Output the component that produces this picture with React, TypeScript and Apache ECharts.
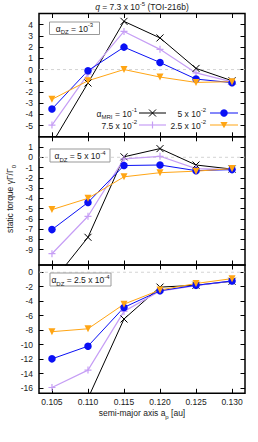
import React, { useEffect, useRef } from "react";
import * as echarts from "echarts";

const X_VALUES = [0.105, 0.11, 0.115, 0.12, 0.125, 0.13];
const X_TICKS = [0.105, 0.11, 0.115, 0.12, 0.125, 0.13];
const X_RANGE = [0.1032, 0.1318];

// panel 1: alpha_DZ = 1e-3
const P1_MRI_1E1 = [-6.6, -1.2, 4.3, 2.82, 0.1, -1.0];
const P1_MRI_75E3 = [-4.95, -0.4, 3.4, 1.8, -0.3, -1.1];
const P1_MRI_5E2 = [-3.52, -0.1, 2.0, 0.63, -0.85, -1.17];
const P1_MRI_25E3 = [-2.66, -1.0, 0.0, -0.67, -1.15, -1.08];
// panel 2: alpha_DZ = 5e-4
const P2_MRI_1E1 = [-12.2, -7.8, 0.05, 0.85, -0.75, -1.15];
const P2_MRI_75E3 = [-9.4, -5.75, -0.15, 0.1, -1.1, -1.2];
const P2_MRI_5E2 = [-7.05, -4.4, -0.8, -0.75, -1.3, -1.2];
const P2_MRI_25E3 = [-5.1, -4.0, -1.9, -1.5, -1.35, -1.1];
// panel 3: alpha_DZ = 2.5e-4
const P3_MRI_1E1 = [-26, -17.4, -6.45, -2.05, -1.8, -1.25];
const P3_MRI_75E3 = [-15.9, -13.5, -5.4, -2.6, -1.85, -1.2];
const P3_MRI_5E2 = [-11.95, -10.2, -4.85, -2.55, -1.8, -1.2];
const P3_MRI_25E3 = [-8.2, -7.8, -4.4, -2.45, -1.55, -0.88];

const Y1_TICKS = [-5, -4, -3, -2, -1, 0, 1, 2, 3, 4];
const Y2_TICKS = [-9, -8, -7, -6, -5, -4, -3, -2, -1, 0, 1];
const Y3_TICKS = [-16, -14, -12, -10, -8, -6, -4, -2, 0];

const FONT = "'Liberation Sans', Arial, sans-serif";
const TXT = "#1a1a1a";
const C_BLACK = "#000000";
const C_PURPLE = "#c69ef5";
const C_BLUE = "#0a10f5";
const C_ORANGE = "#ffa514";

const X_SYM = "path://M0,0L10,10M10,0L0,10";
const PLUS_SYM = "path://M5,0L5,10M0,5L10,5";

const rich = {
  n: { fontSize: 8.5, fontFamily: FONT, fill: TXT, lineHeight: 13 },
  i: { fontSize: 8.5, fontFamily: FONT, fill: TXT, fontStyle: "italic", lineHeight: 13 },
  sup: { fontSize: 6, fontFamily: FONT, fill: TXT, verticalAlign: "top", lineHeight: 13 },
  sub: { fontSize: 6, fontFamily: FONT, fill: TXT, verticalAlign: "bottom", lineHeight: 13 },
};

function mkSeries(name: string, vals: number[], idx: number, color: string, kind: string) {
  const s: any = {
    type: "line",
    name,
    xAxisIndex: idx * 2,
    yAxisIndex: idx * 2,
    data: X_VALUES.map((x, i) => [x, vals[i]]),
    lineStyle: { color, width: kind === "plus" ? 1.2 : 1 },
    clip: true,
    silent: true,
    z: 3,
  };
  if (kind === "x") {
    s.symbol = X_SYM;
    s.symbolSize = 7;
    s.itemStyle = { color: "transparent", borderColor: color, borderWidth: 1 };
  } else if (kind === "plus") {
    s.symbol = PLUS_SYM;
    s.symbolSize = 7;
    s.itemStyle = { color: "transparent", borderColor: color, borderWidth: 1.2 };
  } else if (kind === "circle") {
    s.symbol = "circle";
    s.symbolSize = 7.5;
    s.itemStyle = { color };
  } else {
    s.symbol = "triangle";
    s.symbolRotate = 180;
    s.symbolSize = 7;
    s.itemStyle = { color };
  }
  return s;
}

function zeroLine(idx: number) {
  return {
    type: "line",
    xAxisIndex: idx * 2,
    yAxisIndex: idx * 2,
    data: [
      [X_RANGE[0], 0],
      [X_RANGE[1], 0],
    ],
    symbol: "none",
    silent: true,
    z: 1,
    lineStyle: { type: [3, 3], color: "#c8c8c8", width: 0.8 },
  };
}

function dzBox(x: number, y: number, w: number, h: number, text: string) {
  return [
    { type: "rect", shape: { x, y, width: w, height: h }, style: { fill: "#fff", stroke: "#999", lineWidth: 1 }, z: 50 },
    {
      type: "text",
      x: x + w / 2,
      y: y + h / 2 + 0.5,
      z: 51,
      style: { text, align: "center", verticalAlign: "middle", rich, fontSize: 8.5, fontFamily: FONT, fill: TXT },
    },
  ];
}

function legendEntry(textRight: number, y: number, lx1: number, lx2: number, text: string, color: string, kind: string) {
  const cx = (lx1 + lx2) / 2;
  const els: any[] = [
    { type: "text", x: textRight, y: y + 0.5, z: 50, style: { text, align: "right", verticalAlign: "middle", rich, fontSize: 8.5, fontFamily: FONT, fill: TXT } },
    { type: "line", z: 50, shape: { x1: lx1, y1: y, x2: lx2, y2: y }, style: { stroke: color, lineWidth: kind === "plus" ? 1.2 : 1 } },
  ];
  if (kind === "x") {
    els.push({ type: "line", z: 51, shape: { x1: cx - 3.5, y1: y - 3.5, x2: cx + 3.5, y2: y + 3.5 }, style: { stroke: color, lineWidth: 1 } });
    els.push({ type: "line", z: 51, shape: { x1: cx + 3.5, y1: y - 3.5, x2: cx - 3.5, y2: y + 3.5 }, style: { stroke: color, lineWidth: 1 } });
  } else if (kind === "plus") {
    els.push({ type: "line", z: 51, shape: { x1: cx, y1: y - 3.5, x2: cx, y2: y + 3.5 }, style: { stroke: color, lineWidth: 1.2 } });
  } else if (kind === "circle") {
    els.push({ type: "circle", z: 51, shape: { cx, cy: y, r: 3.75 }, style: { fill: color } });
  } else {
    els.push({ type: "polygon", z: 51, shape: { points: [[cx - 3.6, y - 3], [cx + 3.6, y - 3], [cx, y + 3.2]] }, style: { fill: color } });
  }
  return els;
}

export default function App() {
  const ref = useRef<HTMLDivElement>(null);
  useEffect(() => {
    if (!ref.current) return;
    const chart = echarts.init(ref.current, undefined, { renderer: "svg" });

    const gridDefs = [
      { top: 13.5, height: 123.3, min: -6, max: 5, ticks: Y1_TICKS },
      { top: 136.8, height: 128.2, min: -10.5, max: 2, ticks: Y2_TICKS },
      { top: 265, height: 128.3, min: -16.7, max: 1, ticks: Y3_TICKS },
    ];

    const grid = gridDefs.map((g) => ({
      left: 39,
      width: 206,
      top: g.top,
      height: g.height,
      show: true,
      borderColor: "#000",
      borderWidth: 1.5,
      backgroundColor: "transparent",
    }));

    const xAxis: any[] = [];
    const yAxis: any[] = [];
    gridDefs.forEach((g, i) => {
      ["bottom", "top"].forEach((pos) => {
        xAxis.push({
          type: "value",
          gridIndex: i,
          position: pos,
          min: X_RANGE[0],
          max: X_RANGE[1],
          axisLine: { show: false, onZero: false },
          splitLine: { show: false },
          axisTick: { show: true, inside: true, length: 4.5, customValues: X_TICKS, lineStyle: { color: "#000", width: 1 } },
          axisLabel: {
            show: i === 2 && pos === "bottom",
            customValues: X_TICKS,
            margin: 4,
            fontSize: 8.5,
            fontFamily: FONT,
            color: TXT,
            formatter: (v: number) => v.toFixed(3),
          },
        });
      });
      ["left", "right"].forEach((pos) => {
        yAxis.push({
          type: "value",
          gridIndex: i,
          position: pos,
          min: g.min,
          max: g.max,
          axisLine: { show: false, onZero: false },
          splitLine: { show: false },
          axisTick: { show: true, inside: true, length: 4.5, customValues: g.ticks, lineStyle: { color: "#000", width: 1 } },
          axisLabel: {
            show: pos === "left",
            customValues: g.ticks,
            margin: 6,
            fontSize: 8.5,
            fontFamily: FONT,
            color: TXT,
            formatter: (v: number) => String(Math.round(v)),
          },
        });
      });
    });

    const panels = [
      [P1_MRI_1E1, P1_MRI_75E3, P1_MRI_5E2, P1_MRI_25E3],
      [P2_MRI_1E1, P2_MRI_75E3, P2_MRI_5E2, P2_MRI_25E3],
      [P3_MRI_1E1, P3_MRI_75E3, P3_MRI_5E2, P3_MRI_25E3],
    ];
    const styles: [string, string, string][] = [
      ["mri 1e-1", C_BLACK, "x"],
      ["mri 7.5e-2", C_PURPLE, "plus"],
      ["mri 5e-2", C_BLUE, "circle"],
      ["mri 2.5e-2", C_ORANGE, "tri"],
    ];
    const series: any[] = [];
    panels.forEach((_p, i) => series.push(zeroLine(i)));
    panels.forEach((p, i) => {
      p.forEach((vals, k) => {
        series.push(mkSeries(styles[k][0] + " p" + (i + 1), vals, i, styles[k][1], styles[k][2]));
      });
    });

    const graphic: any[] = [
      {
        type: "text",
        x: 142,
        y: 7,
        style: { text: "{i|q}{n| = 7.3 x 10}{sup|-5}{n| (TOI-216b)}", align: "center", verticalAlign: "middle", rich, fontSize: 8.5, fontFamily: FONT, fill: TXT },
      },
      {
        type: "text",
        x: 10,
        y: 199,
        rotation: Math.PI / 2,
        style: { text: "{n|static torque γΓ/Γ}{sub|0}", align: "center", verticalAlign: "middle", rich, fontSize: 8.5, fontFamily: FONT, fill: TXT },
      },
      {
        type: "text",
        x: 142,
        y: 413,
        style: { text: "{n|semi-major axis a}{sub|p}{n| [au]}", align: "center", verticalAlign: "middle", rich, fontSize: 8.5, fontFamily: FONT, fill: TXT },
      },
      ...dzBox(49.5, 22, 50, 12.5, "{n|α}{sub|DZ}{n| = 10}{sup|-3}"),
      ...dzBox(50, 149, 60, 13, "{n|α}{sub|DZ}{n| = 5 x 10}{sup|-4}"),
      ...dzBox(50, 273, 61, 13, "{n|α}{sub|DZ}{n| = 2.5 x 10}{sup|-4}"),
      ...legendEntry(137, 113, 139, 166, "{n|α}{sub|MRI}{n| = 10}{sup|-1}", C_BLACK, "x"),
      ...legendEntry(206, 113, 210, 238, "{n|5 x 10}{sup|-2}", C_BLUE, "circle"),
      ...legendEntry(137, 125, 139, 166, "{n|7.5 x 10}{sup|-2}", C_PURPLE, "plus"),
      ...legendEntry(206, 125, 210, 238, "{n|2.5 x 10}{sup|-2}", C_ORANGE, "tri"),
    ];

    chart.setOption({
      animation: false,
      backgroundColor: "#fff",
      grid,
      xAxis,
      yAxis,
      series,
      graphic,
    });
    return () => chart.dispose();
  }, []);
  return <div ref={ref} style={{ position: "fixed", left: 0, top: 0, width: 258, height: 442 }} />;
}
